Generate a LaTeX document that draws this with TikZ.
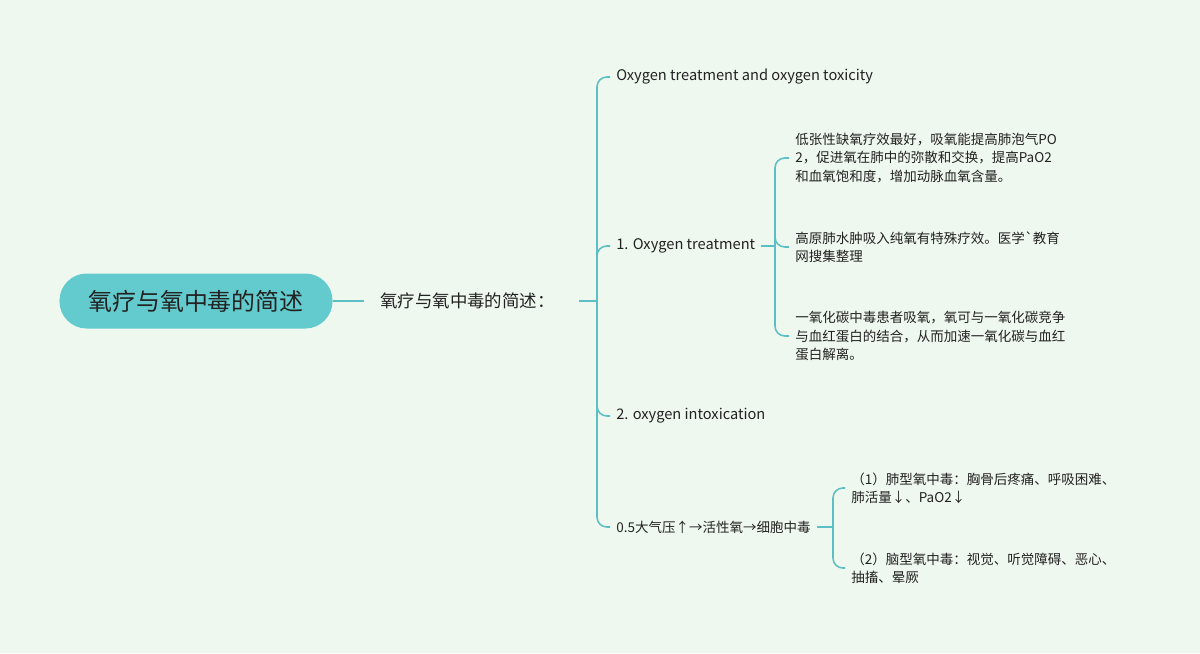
\documentclass[tikz,border=0pt]{standalone}
\usepackage{fontspec}
\setmainfont{Noto Sans CJK SC}
\newfontfamily\plaincjk{Noto Sans CJK SC}
\usetikzlibrary{positioning}
\definecolor{bgcol}{HTML}{EFF8EE}
\definecolor{rootcol}{HTML}{63CACD}
\definecolor{linecol}{HTML}{5CBFC5}
\definecolor{txtcol}{HTML}{222222}
\tikzset{
  link/.style={draw=linecol, line width=1.1pt, rounded corners=7pt},
  topic/.style={anchor=west, inner xsep=0.15cm, inner ysep=2pt, align=left,
    font=\fontsize{9.6}{12.9}\selectfont, text=txtcol},
  entopic/.style={topic, font=\fontsize{10.4}{12.9}\selectfont},
}
\begin{document}
\begin{tikzpicture}[x=0.025cm, y=-0.025cm]
  \fill[bgcol] (0,0) rectangle (1200,653);
  \useasboundingbox (0,0) rectangle (1200,653);
  % main topic
  \node (root) [fill=rootcol, rounded corners=0.68cm, minimum width=6.825cm, minimum height=1.375cm,
    font=\fontsize{17}{20}\selectfont, text=txtcol] at (196,301) {氧疗与氧中毒的简述};
  \node (brief) [topic, inner xsep=0.4cm, font=\fontsize{12.4}{14}\selectfont] at (364,301) {氧疗与氧中毒的简述：};
  \draw[link] (root.east) -- (brief.west);
  \coordinate (hubA) at (597,301);
  \draw[link, shorten <=0.2cm] (brief.east) -- (hubA);
  % second level
  \node (title) [entopic] at (610,77) {Oxygen treatment and oxygen toxicity};
  \node (treat) [entopic] at (610,246) {1. Oxygen treatment};
  \node (intox) [entopic] at (610,416) {2. oxygen intoxication};
  \node (press) [topic] at (610,527) {0.5大气压↑→活性氧→细胞中毒};
  \foreach \n in {title,treat,intox,press}
    \draw[link] (hubA) |- (\n.west);
  % oxygen treatment
  \node (hypo) [topic] at (789,158) {低张性缺氧疗效最好，吸氧能提高肺泡气PO\\2，促进氧在肺中的弥散和交换，提高PaO2\\和血氧饱和度，增加动脉血氧含量。};
  \node (plateau) [topic] at (789,247) {高原肺水肿吸入纯氧有特殊疗效。医学{\plaincjk `}教育\\网搜集整理};
  \node (carbon) [topic] at (789,336) {一氧化碳中毒患者吸氧，氧可与一氧化碳竞争\\与血红蛋白的结合，从而加速一氧化碳与血红\\蛋白解离。};
  \coordinate (hubB) at (775,246);
  \draw[link] (treat.east) -- (hubB);
  \foreach \n in {hypo,plateau,carbon}
    \draw[link] (hubB) |- (\n.west);
  % cell poisoning
  \node (lung) [topic] at (845,488) {（1）肺型氧中毒：胸骨后疼痛、呼吸困难、\\肺活量↓、PaO2↓};
  \node (brain) [topic] at (845,568) {（2）脑型氧中毒：视觉、听觉障碍、恶心、\\抽搐、晕厥};
  \coordinate (hubC) at (833,527);
  \draw[link] (press.east) -- (hubC);
  \foreach \n in {lung,brain}
    \draw[link] (hubC) |- (\n.west);
\end{tikzpicture}
\end{document}
